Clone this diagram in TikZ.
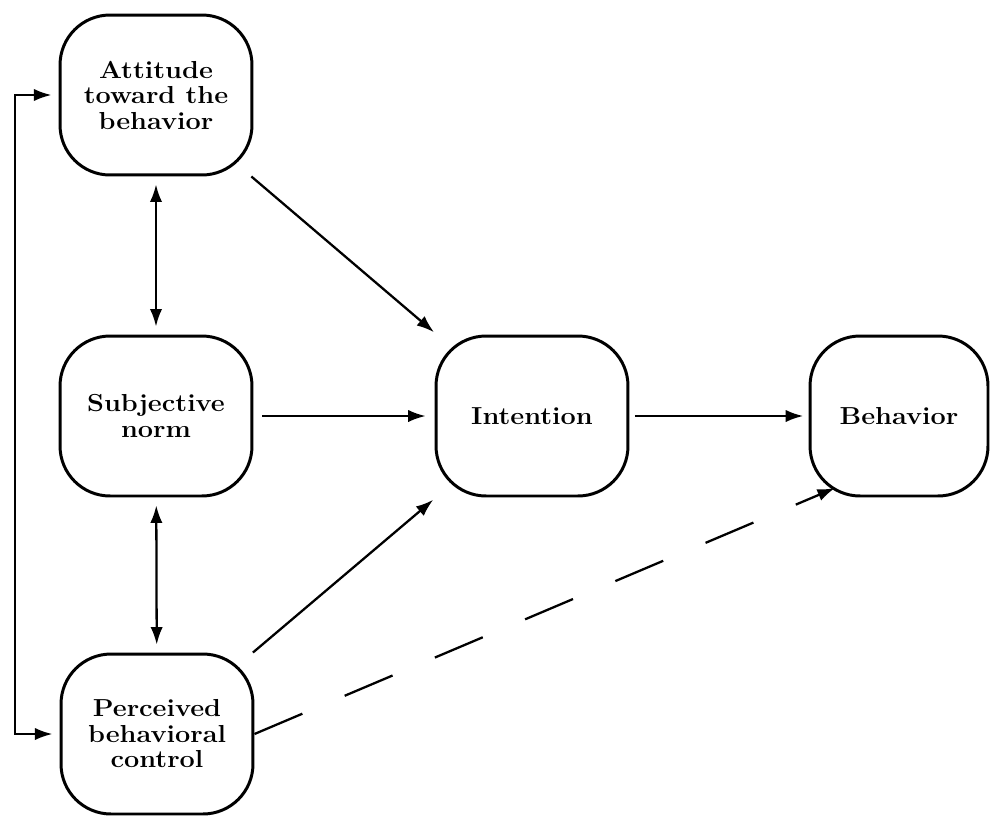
\documentclass[tikz,border=0pt]{standalone}
\usepackage{fontspec}
\usepackage{tikz}
\usetikzlibrary{arrows.meta}
\newfontfamily\boxfont[FakeStretch=1.1]{Latin Modern Roman}

\begin{document}
\begin{tikzpicture}[x=0.02cm,y=-0.02cm,
box/.style={draw,line width=1.7pt,rounded corners=1cm,align=center,
 minimum width=3.84cm,minimum height=3.2cm,inner sep=0pt,
 font=\boxfont\fontsize{14}{14.5}\selectfont\bfseries},
arr/.style={line width=1.3pt,-{Latex[length=10pt,width=7pt]}},
darr/.style={line width=1.3pt,{Latex[length=10pt,width=7pt]}-{Latex[length=10pt,width=7pt]}}]

\useasboundingbox (0,0) rectangle (993,815);

\node[box] (att) at (156,95) {Attitude\\toward the\\behavior};
\node[box] (sub) at (156,416) {Subjective\\norm};
\node[box] (per) at (157,734) {Perceived\\behavioral\\control};
\node[box] (int) at (532,416) {Intention};
\node[box,minimum width=3.56cm] (beh) at (899,416) {Behavior};

\coordinate (lc) at (15,416);
\coordinate (dend) at (835,488);

% links between the three beliefs
\draw[darr,shorten <=4.5pt,shorten >=4.5pt] (att) -- (sub);
\draw[darr,shorten <=4.5pt,shorten >=4.5pt] (sub) -- (per);

\draw[arr,shorten >=2pt] (att) -- (int);
\draw[arr,shorten <=5pt,shorten >=5pt] (sub) -- (int);
\draw[arr,shorten >=2pt] (per) -- (int);
\draw[arr,shorten <=3pt,shorten >=3pt] (int) -- (beh);

\draw[arr,dash pattern=on 1.04cm off 0.92cm] (per.east) -- (dend);

\draw[arr,shorten >=4pt] (lc) |- (att.west);
\draw[arr,shorten >=4pt] (lc) |- (per.west);
\end{tikzpicture}
\end{document}
